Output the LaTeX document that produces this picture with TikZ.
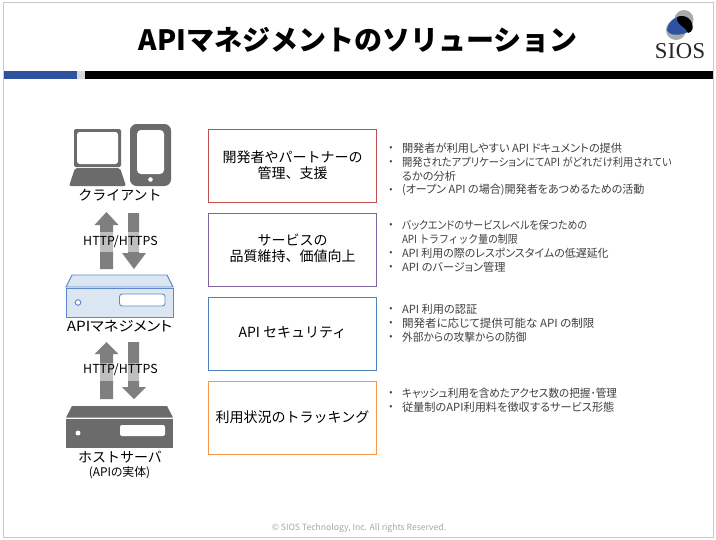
\documentclass[tikz,border=0pt]{standalone}
\usepackage{graphicx}
\usepackage{fontspec}
\setmainfont{Noto Sans CJK JP}
\newfontfamily\paltfont{Noto Sans CJK JP}[RawFeature=+palt]
\newfontfamily\logofont{Liberation Serif}
\definecolor{grayicon}{HTML}{6B6B6B}
\definecolor{arrowgray}{HTML}{7F7F7F}
\definecolor{framegray}{HTML}{C8C8C8}
\definecolor{bodytext}{HTML}{404040}
\definecolor{siosblue}{HTML}{2F52A0}
\definecolor{logogray}{HTML}{A6ABB0}
\definecolor{srvfill}{HTML}{DCE6F2}
\definecolor{srvline}{HTML}{5B8BC9}
\tikzset{
  x=0.75pt,y=-0.75pt,
  every node/.style={inner sep=0pt,outer sep=0pt},
  catbox/.style={draw,line width=0.75pt,minimum width=126pt,minimum height=55pt,align=center,font=\fontsize{10.5pt}{12pt}\selectfont,text=black},
  iconlabel/.style={font=\fontsize{10.5pt}{13pt}\selectfont,text=black},
  bodyline/.style={anchor=west,font=\paltfont\fontsize{8.4pt}{10pt}\selectfont,text=bodytext},
  bulletdot/.style={anchor=center,font=\fontsize{7pt}{10pt}\selectfont,text=bodytext},
  block/.style={fill=arrowgray,draw=none},
  veil/.style={fill=white,fill opacity=0.5,draw=none},
  httplabel/.style={font=\fontsize{9.3pt}{10pt}\selectfont,text=black}
}
\newcommand{\bodyitem}[4]{%
  \node[bulletdot] at (391,#1) {•};
  \node[bodyline] (#2) at (402,#1) {\scalebox{#3}[1]{#4}};}
\newcommand{\liftline}{\rule[-2.4pt]{0pt}{0pt}}
\begin{document}
\begin{tikzpicture}
\useasboundingbox (0,0) rectangle (716,539);
\fill[white] (0,0) rectangle (716,539);
\draw[framegray,line width=0.75pt] (3.5,2.5) rectangle (713.5,537);
% header
\node[font=\bfseries\fontsize{21pt}{24pt}\selectfont] (title) at (358,40) {APIマネジメントのソリューション};
\fill[siosblue] (4,71) rectangle (77,79);
\fill[black!15] (77,71) rectangle (85,79);
\fill[black] (85,71) rectangle (713,79);
% logo
\fill[logogray] (684,19.5) circle (9.5);
\fill[logogray] (676,30) circle (10);
\fill[siosblue] (667,30) .. controls (668,22) and (674,17) .. (679,17) .. controls (679,26) and (688,27) .. (688,32) .. controls (680,36) and (669,36) .. (667,30) -- cycle;
\fill[black] (677,17) .. controls (686,13) and (694,21) .. (692.5,29) .. controls (692,31) and (690,33) .. (688,33) .. controls (686,26) and (676,26) .. (677,17) -- cycle;
\node[font=\logofont\fontsize{17pt}{18pt}\selectfont,text=black!85] (sios) at (680,51) {S\kern0.3pt I\kern0.3pt O\kern0.3pt S};
% laptop
\fill[grayicon,rounded corners=1.5pt] (74,129) rectangle (121,167);
\fill[white,rounded corners=2pt] (77,132) rectangle (118,164);
\fill[grayicon,rounded corners=1.5pt] (75,168) -- (120,168) -- (126,186) -- (69,186) -- cycle;
% tablet
\fill[grayicon,rounded corners=5pt] (130,124) rectangle (171,186);
\fill[white,rounded corners=3pt] (137,130) rectangle (164,174);
\fill[white] (150.5,179.5) circle (2.3);
\node[iconlabel] (client) at (120,195.5) {クライアント};
% arrows 1
\fill[block] (106.5,212) -- (118.5,225) -- (113,225) -- (113,269) -- (100,269) -- (100,225) -- (94.5,225) -- cycle;
\fill[block] (128,213) -- (139,213) -- (139,253) -- (146,253) -- (134,269) -- (122,253) -- (128,253) -- cycle;
\fill[veil] (83,232) rectangle (158,252);
\node[httplabel] (http1) at (120.5,241.5) {HTTP/HTTPS};
% api server
\path[fill=srvfill,draw=srvline,line width=0.7pt] (72,275) -- (167,275) -- (173,287) -- (66,287) -- cycle;
\path[fill=srvfill,draw=srvline,line width=0.7pt] (66,288) rectangle (173,317);
\path[fill=white,draw=srvline,line width=0.7pt,rounded corners=2pt] (119.5,294) rectangle (165,306);
\path[fill=white,draw=srvline,line width=0.7pt] (78,302.5) circle (2.8);
\node[iconlabel,font=\paltfont\fontsize{10.5pt}{13pt}\selectfont] (apim) at (119.5,326) {\scalebox{1.09}[1]{APIマネジメント}};
% arrows 2
\fill[block] (106.5,342) -- (118.5,354) -- (113,354) -- (113,399) -- (100,399) -- (100,354) -- (94.5,354) -- cycle;
\fill[block] (128,342) -- (139,342) -- (139,387) -- (146,387) -- (134,399) -- (122,387) -- (128,387) -- cycle;
\fill[veil] (83,363) rectangle (158,381);
\node[httplabel] (http2) at (120.5,369.5) {HTTP/HTTPS};
% host server
\fill[grayicon] (72,406) -- (167,406) -- (173,417.5) -- (66,417.5) -- cycle;
\fill[grayicon] (66,419) rectangle (173,447.5);
\fill[white,rounded corners=1.5pt] (120,425) rectangle (165,436);
\fill[white] (78,433) circle (2.5);
\node[iconlabel] (host) at (120,457) {ホストサーバ};
\node[font=\paltfont\fontsize{8.9pt}{10pt}\selectfont] (hostsub) at (119.5,473) {(APIの実体)};
% category boxes
\node[catbox,draw={rgb,255:red,192;green,80;blue,77}] (c1) at (292.5,165.8) {開発者やパートナーの\\管理、支援\liftline};
\node[catbox,draw={rgb,255:red,128;green,100;blue,162}] (c2) at (292.5,249.8) {サービスの\\品質維持、価値向上\liftline};
\node[catbox,draw={rgb,255:red,79;green,129;blue,189}] (c3) at (292.5,333.8) {API セキュリティ\liftline};
\node[catbox,draw={rgb,255:red,247;green,150;blue,70}] (c4) at (292.5,417.8) {利用状況のトラッキング\liftline};
% body
\bodyitem{148}{a1}{1}{開発者が利用しやすい API ドキュメントの提供}
\bodyitem{162}{a2}{0.918}{開発されたアプリケーションにてAPI がどれだけ利用されてい}
\node[bodyline] (a2b) at (402,176) {るかの分析};
\bodyitem{190}{a3}{0.988}{(オープン API の場合)開発者をあつめるための活動}
\bodyitem{225}{b1}{0.889}{バックエンドのサービスレベルを保つための}
\node[bodyline,font=\fontsize{8.4pt}{10pt}\selectfont] (b1b) at (402,239) {\scalebox{0.88}[1]{API トラフィック量の制限}};
\bodyitem{253}{b2}{0.98}{API 利用の際のレスポンスタイムの低遅延化}
\bodyitem{267}{b3}{1}{API のバージョン管理}
\bodyitem{309}{d1}{1}{API 利用の認証}
\bodyitem{323}{d2}{1.03}{開発者に応じて提供可能な API の制限}
\bodyitem{337}{d3}{0.96}{外部からの攻撃からの防御}
\bodyitem{393}{e1}{0.947}{キャッシュ利用を含めたアクセス数の把握･管理}
\bodyitem{407}{e2}{1}{従量制のAPI利用料を徴収するサービス形態}
% footer
\node[font=\paltfont\fontsize{6.46pt}{8pt}\selectfont,text=black!35] (foot) at (359,528) {© SIOS Technology, Inc. All rights Reserved.};
\end{tikzpicture}
\end{document}
